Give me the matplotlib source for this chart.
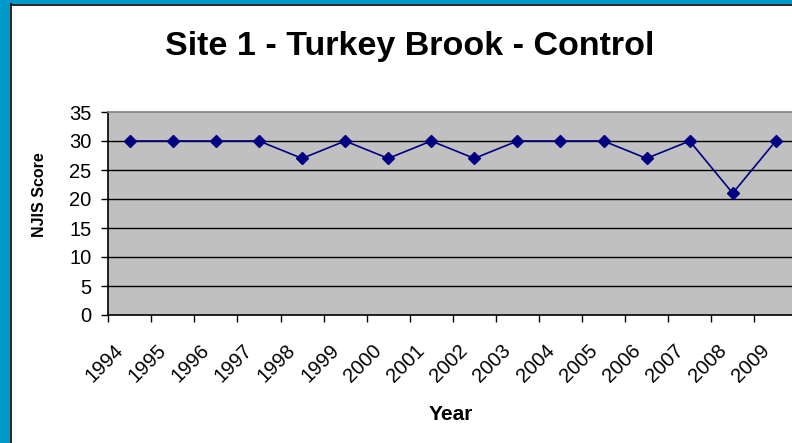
import matplotlib
matplotlib.use("Agg")
import matplotlib.pyplot as plt
from matplotlib.patches import Rectangle
from matplotlib.lines import Line2D
from matplotlib.transforms import ScaledTranslation

years = ["1994", "1995", "1996", "1997", "1998", "1999", "2000", "2001",
         "2002", "2003", "2004", "2005", "2006", "2007", "2008", "2009"]
scores = [30, 30, 30, 30, 27, 30, 27, 30, 27, 30, 30, 30, 27, 30, 21, 30]
yticks = [0, 5, 10, 15, 20, 25, 30, 35]

plt.rcParams['font.family'] = ['Liberation Sans', 'DejaVu Sans']

W, H = 792, 443
fig = plt.figure(figsize=(W / 100, H / 100), dpi=100)
fig.patch.set_facecolor("white")

# blue outer frame (left and top) with thin black inner line
fig.patches.append(Rectangle((0, 0), 10 / W, 1, transform=fig.transFigure,
                             facecolor="#0099CC", edgecolor="none", zorder=0))
fig.patches.append(Rectangle((0, 1 - 3.5 / H), 1, 3.5 / H, transform=fig.transFigure,
                             facecolor="#0099CC", edgecolor="none", zorder=0))
fig.lines.append(Line2D([10.5 / W, 10.5 / W], [0, 1 - 3.5 / H], transform=fig.transFigure,
                        color="black", lw=1.2))
fig.lines.append(Line2D([10.5 / W, 1], [1 - 4.5 / H, 1 - 4.5 / H], transform=fig.transFigure,
                        color="black", lw=1.2))

ax = fig.add_axes([108.3 / W, (H - 315) / H, 689 / W, 203 / H])
ax.set_facecolor("#C0C0C0")

n = len(years)
xs = [i + 0.5 for i in range(n)]
ax.plot(xs, scores, color="#000080", lw=1.2, marker="D", markersize=6.5,
        markerfacecolor="#000080", markeredgecolor="#000080", zorder=3)

ax.set_xlim(0, n)
ax.set_ylim(0, 35)
ax.set_yticks(yticks)
ax.set_yticklabels([str(v) for v in yticks])
for v in yticks[1:-1]:
    ax.axhline(v, color="black", lw=1.0, zorder=1)

ax.set_xticks(range(n + 1))
ax.set_xticklabels([""] * (n + 1))
ax.set_xticks(xs, minor=True)
ax.set_xticklabels(years, minor=True, rotation=45, ha="right", va="top",
                   rotation_mode="anchor", fontsize=14.5)
ax.tick_params(axis="x", which="minor", length=0, pad=18.5)
ax.tick_params(axis="x", which="major", length=5, width=1, direction="out", color="black")
ax.tick_params(axis="y", length=5, width=1, direction="out", pad=7, labelsize=14.5)
off = ScaledTranslation(-0.16, 0, fig.dpi_scale_trans)
for lab in ax.get_xticklabels(minor=True):
    lab.set_transform(lab.get_transform() + off)

for s in ["left", "bottom"]:
    ax.spines[s].set_color("black")
    ax.spines[s].set_linewidth(1.2)
for s in ["top", "right"]:
    ax.spines[s].set_color("#808080")
    ax.spines[s].set_linewidth(1.2)

fig.text(410 / W, 1 - 55 / H, "Site 1 - Turkey Brook - Control", ha="center",
         va="baseline", fontsize=24.5, fontweight="bold")
fig.text(39 / W, 1 - 195 / H, "NJIS Score", rotation=90, ha="center", va="center",
         fontsize=11.5, fontweight="bold")
fig.text(450.5 / W, 1 - 420 / H, "Year", ha="center", va="baseline",
         fontsize=15, fontweight="bold")

fig.savefig("out.png", dpi=100)
